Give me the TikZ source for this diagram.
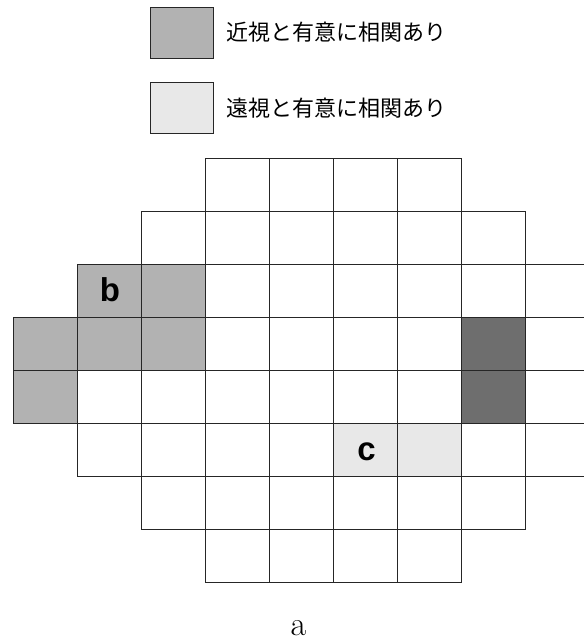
\documentclass[tikz,border=0pt]{standalone}
\usepackage{fontspec}
\setsansfont{Liberation Sans}
\newfontfamily\cjk{Noto Sans CJK JP}
\usepackage{tikz}
\usetikzlibrary{positioning}

\definecolor{neargray}{gray}{0.70}
\definecolor{fargray}{gray}{0.91}
\definecolor{spotgray}{gray}{0.43}

\begin{document}
\begin{tikzpicture}[
  x=1pt, y=-1pt,
  cell/.style={draw=black!85, line width=0.8pt},
  key/.style={draw=black!85, line width=0.8pt, minimum width=63pt,
              minimum height=51pt, inner sep=0pt},
  keytext/.style={font=\cjk\fontsize{22}{24}\selectfont, inner sep=0pt},
  celltag/.style={font=\sffamily\bfseries\fontsize{33}{36}\selectfont},
]
\useasboundingbox (0,0) rectangle (584,643);
\clip (0,0) rectangle (584,643);

% legend
\node[key, fill=neargray] (keynear) at (181.5,32.5) {};
\node[key, fill=fargray] (keyfar) at (181.5,108) {};
\node[keytext, right=13pt of keynear] (txtnear) {近視と有意に相関あり};
\node[keytext, right=13pt of keyfar] (txtfar) {遠視と有意に相関あり};

% shaded cells (column/row)
\foreach \c/\r in {1/2,2/2,0/3,1/3,2/3,0/4}
  \fill[neargray] (13+64*\c,158+53*\r) rectangle ++(64,53);
\foreach \c/\r in {5/5,6/5}
  \fill[fargray] (13+64*\c,158+53*\r) rectangle ++(64,53);
\foreach \c/\r in {7/3,7/4}
  \fill[spotgray] (13+64*\c,158+53*\r) rectangle ++(64,53);

% grid rows: row/first/last column
\foreach \r/\a/\b in {0/3/6,1/2/7,2/1/8,3/0/9,4/0/9,5/1/8,6/2/7,7/3/6}
  \foreach \c in {\a,...,\b}
    \draw[cell] (13+64*\c,158+53*\r) rectangle ++(64,53);

\node[celltag] (tagb) at (110,290) {b};
\node[celltag] (tagc) at (366.5,452) {c};

\node[font=\fontsize{34}{36}\selectfont, inner sep=0pt] (caption) at (298.5,628) {a};
\end{tikzpicture}
\end{document}
